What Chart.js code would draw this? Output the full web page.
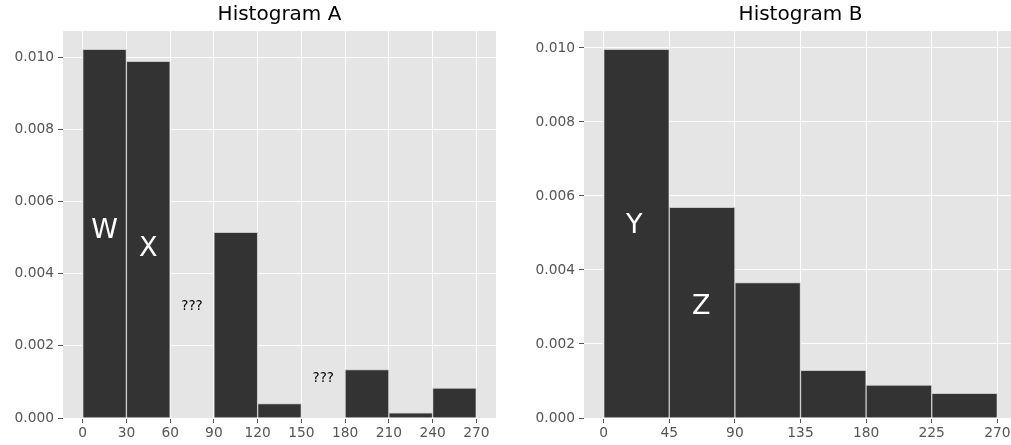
<!DOCTYPE html>
<html>
<head>
<meta charset="utf-8">
<script src="https://cdn.jsdelivr.net/npm/chart.js@4.4.1/dist/chart.umd.min.js"></script>
<style>
  html, body { margin: 0; padding: 0; background: #ffffff; overflow: hidden; }
  body { width: 1011px; height: 445px; position: relative; }
  .box { position: absolute; top: 0; width: 505px; height: 445px; }
  #boxA { left: 0px; }
  #boxB { left: 521px; }
</style>
</head>
<body>
<div class="box" id="boxA"><canvas id="chartA"></canvas></div>
<div class="box" id="boxB"><canvas id="chartB"></canvas></div>
<script>
// ---------- Data ----------
const titleA = 'Histogram A';
const binEdgesA = [0, 30, 60, 90, 120, 150, 180, 210, 240, 270];
const densityA = [0.01021, 0.00988, 0, 0.00514, 0.00040, 0, 0.00134, 0.00014, 0.00083];
const xTicksA = [0, 30, 60, 90, 120, 150, 180, 210, 240, 270];

const titleB = 'Histogram B';
const binEdgesB = [0, 45, 90, 135, 180, 225, 270];
const densityB = [0.00996, 0.00569, 0.00366, 0.00129, 0.00089, 0.000665];
const xTicksB = [0, 45, 90, 135, 180, 225, 270];

const yTicks = [0, 0.002, 0.004, 0.006, 0.008, 0.010];

// text annotations (data coordinates)
const labelTextA = ['W', 'X', '???', '???'];
const labelXA = [15, 45, 75, 165];
const labelYA = [0.005, 0.0045, 0.003, 0.001];
const labelBigA = [true, true, false, false];

const labelTextB = ['Y', 'Z'];
const labelXB = [21, 67];
const labelYB = [0.005, 0.0028];
const labelBigB = [true, true];

// ---------- Chart building ----------
const FONT = "'DejaVu Sans', sans-serif";

const textPlugin = {
  id: 'textLabels',
  afterDatasetsDraw(chart, args, opts) {
    const ctx = chart.ctx;
    const xs = chart.scales.x, ys = chart.scales.y;
    ctx.save();
    ctx.textAlign = 'center';
    ctx.textBaseline = 'alphabetic';
    for (let i = 0; i < opts.texts.length; i++) {
      const big = opts.big[i];
      ctx.font = (big ? '27px ' : '13.5px ') + FONT;
      ctx.fillStyle = big ? '#ffffff' : '#000000';
      ctx.fillText(opts.texts[i], xs.getPixelForValue(opts.xs[i]), ys.getPixelForValue(opts.ys[i]));
    }
    ctx.restore();
  }
};

function makeHist(canvasId, title, edges, dens, xTicks, texts, lx, ly, lbig) {
  const points = dens.map((v, i) => ({ x: (edges[i] + edges[i + 1]) / 2, y: v }));
  const span = edges[edges.length - 1] - edges[0];
  const xMin = edges[0] - span * 0.05;
  const xMax = edges[edges.length - 1] + span * 0.05;
  const yMax = Math.max(...dens) * 1.05;
  return new Chart(document.getElementById(canvasId), {
    type: 'bar',
    data: {
      datasets: [{
        data: points,
        backgroundColor: '#333333',
        borderColor: '#c8c8c8',
        borderWidth: 1,
        borderSkipped: 'bottom',
        barPercentage: 1.0,
        categoryPercentage: 1.0,
        grouped: false
      }]
    },
    options: {
      responsive: true,
      maintainAspectRatio: false,
      animation: false,
      devicePixelRatio: 1,
      layout: { padding: { left: 0, right: 9, top: 0, bottom: 0 } },
      plugins: {
        legend: { display: false },
        tooltip: { enabled: false },
        title: {
          display: true,
          text: title,
          fullSize: false,
          color: '#000000',
          font: { family: FONT, size: 20, weight: 'normal' },
          padding: { top: 3, bottom: 4 }
        },
        textLabels: { texts: texts, xs: lx, ys: ly, big: lbig }
      },
      scales: {
        x: {
          type: 'linear',
          min: xMin,
          max: xMax,
          offset: false,
          afterBuildTicks: (s) => { s.ticks = xTicks.map(v => ({ value: v })); },
          afterFit: (s) => { s.height = 27; },
          grid: {
            color: '#ffffff',
            lineWidth: 1,
            drawTicks: true,
            tickLength: 5,
            tickColor: '#555555',
            offset: false
          },
          border: { display: false },
          ticks: {
            color: '#555555',
            font: { family: FONT, size: 13.8 },
            padding: 2,
            maxRotation: 0,
            autoSkip: false,
            callback: (v) => String(v)
          }
        },
        y: {
          type: 'linear',
          min: 0,
          max: yMax,
          afterBuildTicks: (s) => { s.ticks = yTicks.map(v => ({ value: v })); },
          afterFit: (s) => { s.width = 63; },
          grid: {
            color: '#ffffff',
            lineWidth: 1,
            drawTicks: true,
            tickLength: 5,
            tickColor: '#555555'
          },
          border: { display: false },
          ticks: {
            color: '#555555',
            font: { family: FONT, size: 13.8 },
            padding: 4,
            autoSkip: false,
            callback: (v) => Number(v).toFixed(3)
          }
        }
      }
    },
    plugins: [textPlugin, {
      id: 'bg',
      beforeDraw(chart) {
        const a = chart.chartArea, c = chart.ctx;
        c.save();
        c.fillStyle = '#e5e5e5';
        c.fillRect(a.left, a.top, a.right - a.left, a.bottom - a.top);
        c.restore();
      }
    }]
  });
}

makeHist('chartA', titleA, binEdgesA, densityA, xTicksA, labelTextA, labelXA, labelYA, labelBigA);
makeHist('chartB', titleB, binEdgesB, densityB, xTicksB, labelTextB, labelXB, labelYB, labelBigB);
</script>
</body>
</html>
